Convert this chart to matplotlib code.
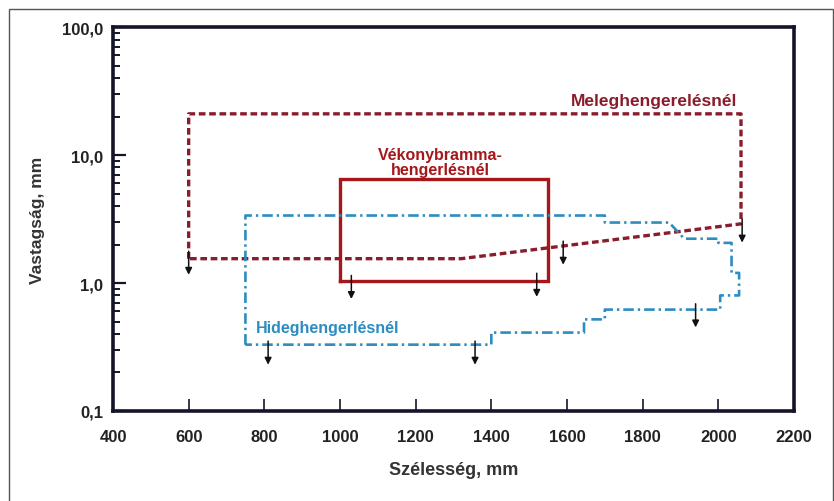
import matplotlib
matplotlib.use("Agg")
import matplotlib.pyplot as plt
from matplotlib.patches import Rectangle
from matplotlib.ticker import FixedLocator, NullFormatter


# hot rolling range (closed outline)
hot_x = [600, 600, 2060, 2060, 1320, 600]
hot_y = [1.55, 21, 21, 2.9, 1.55, 1.55]

# thin slab rolling range (rectangle)
thin_x = [1000, 1000, 1550, 1550, 1000]
thin_y = [1.03, 6.5, 6.5, 1.03, 1.03]

# cold rolling range (stepped outline)
cold_x = [750, 750, 1700, 1700, 1870, 1910, 2000, 2000, 2035, 2035, 2055,
          2055, 2005, 2005, 1700, 1700, 1645, 1645, 1400, 1400, 750]
cold_y = [0.33, 3.37, 3.37, 2.97, 2.97, 2.22, 2.22, 2.06, 2.06, 1.2, 1.2,
          0.8, 0.8, 0.62, 0.62, 0.52, 0.52, 0.41, 0.41, 0.33, 0.33]

# little arrows pointing down (tip positions)
arrow_x = [600, 810, 1030, 1520, 1590, 2063, 1940, 1357]
arrow_y = [1.16, 0.23, 0.75, 0.78, 1.39, 2.07, 0.45, 0.23]

x_ticks = [400, 600, 800, 1000, 1200, 1400, 1600, 1800, 2000, 2200]
y_ticks = [0.1, 1, 10, 100]
y_labels = ["0,1", "1,0", "10,0", "100,0"]

hot_color = "#8a1c2c"
thin_color = "#a5171b"
cold_color = "#2d8cc0"
axis_color = "#15152a"

plt.rcParams["font.family"] = ["Liberation Sans", "DejaVu Sans"]

fig = plt.figure(figsize=(8.34, 5.02), dpi=100)
ax = fig.add_axes([0.1355, 0.1793, 0.8165, 0.7647])

ax.plot(hot_x, hot_y, color=hot_color, lw=2.4, dashes=(2.0, 1.1))
ax.plot(thin_x, thin_y, color=thin_color, lw=2.4, solid_joinstyle="miter")
ax.plot(cold_x, cold_y, color=cold_color, lw=1.9,
        dashes=(4.0, 1.5, 0.9, 1.5))

for ax_, ay_ in zip(arrow_x, arrow_y):
    ax.annotate("", xy=(ax_, ay_), xytext=(0, 17), textcoords="offset points",
                arrowprops=dict(arrowstyle="-|>", color="#111111", lw=1.1,
                                mutation_scale=10, shrinkA=0, shrinkB=0))

ax.text(1830, 26.5, "Meleghengerelésnél", color=hot_color, fontsize=12.5,
        fontweight="bold", ha="center", va="center")
ax.text(1265, 8.8, "Vékonybramma-\nhengerlésnél", color=thin_color,
        fontsize=11.5, fontweight="bold", ha="center", va="center",
        linespacing=1.05)
ax.text(966, 0.45, "Hideghengerlésnél", color=cold_color, fontsize=11.5,
        fontweight="bold", ha="center", va="center")

ax.set_yscale("log")
ax.set_xlim(400, 2200)
ax.set_ylim(0.1, 100)

ax.set_xticks(x_ticks)
ax.set_xticklabels([str(t) for t in x_ticks], fontsize=12, fontweight="bold",
                   color="#222222")
ax.yaxis.set_major_locator(FixedLocator(y_ticks))
ax.set_yticklabels(y_labels, fontsize=12, fontweight="bold", color="#222222")
minor = [m * 10.0 ** e for e in (-1, 0, 1) for m in range(2, 10)]
ax.yaxis.set_minor_locator(FixedLocator(minor))
ax.yaxis.set_minor_formatter(NullFormatter())

ax.tick_params(axis="x", direction="in", length=9, width=1.2,
               colors=axis_color, labelcolor="#222222", pad=13)
ax.tick_params(axis="y", which="major", direction="in", length=9, width=1.6,
               colors=axis_color, labelcolor="#222222", pad=7)
ax.tick_params(axis="y", which="minor", direction="in", length=5, width=1.4,
               colors=axis_color)

for s in ax.spines.values():
    s.set_linewidth(2.6)
    s.set_color(axis_color)

ax.set_xlabel("Szélesség, mm", fontsize=13, fontweight="bold",
              color="#333333", labelpad=12)
ax.set_ylabel("Vastagság, mm", fontsize=12.5, fontweight="bold",
              color="#333333", labelpad=12)

# thin frame around the picture
fig.patches.append(Rectangle((9 / 834, -0.01), 1 - 10 / 834, 1 - 10 / 502 + 0.01,
                             transform=fig.transFigure, fill=False,
                             edgecolor="#555555", lw=1.0))

fig.savefig("out.png", dpi=100)
